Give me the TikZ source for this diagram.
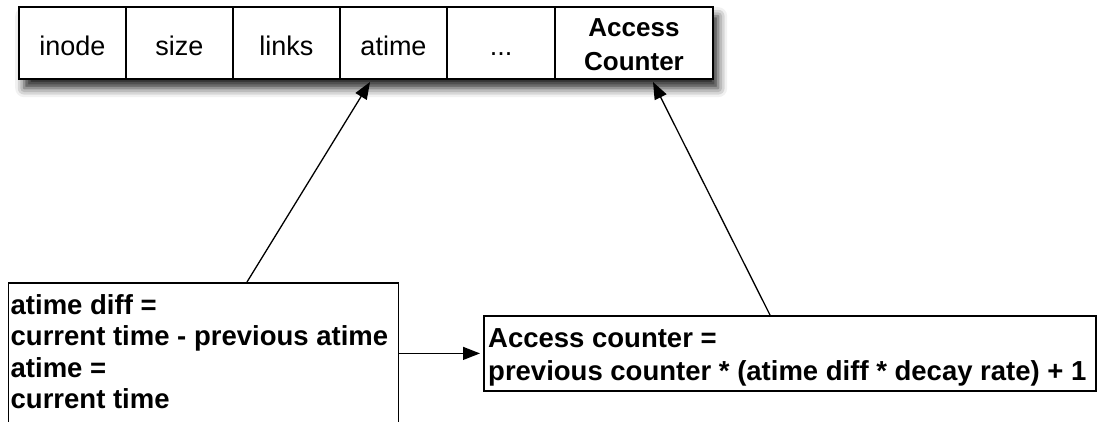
\documentclass[tikz,border=0pt]{standalone}
\usepackage{fontspec}
\setmainfont{Liberation Sans}
\usetikzlibrary{arrows.meta,shadows.blur}
\begin{document}
\begin{tikzpicture}[x=1pt,y=-1pt,
  cell/.style={draw, line width=1.8pt, rectangle, inner sep=0pt, minimum height=72pt,
    text height=24pt, text depth=0pt, font=\fontsize{27}{32}\selectfont},
  boxframe/.style={draw, line width=1.8pt, rectangle, inner sep=0pt, anchor=north west},
  boxtext/.style={anchor=north west, inner sep=0pt, align=left},
  conn/.style={line width=1.3pt, -{Triangle[length=17pt,width=13pt]}}]
\useasboundingbox (0,0) rectangle (1099,421);
% shadowed table background
\node[fill=white, minimum width=694pt, minimum height=72pt, anchor=north west, inner sep=0pt,
  blur shadow={shadow xshift=5pt, shadow yshift=-9pt, shadow blur radius=9pt, shadow opacity=85}]
  (table) at (19,7) {};
% cells
\node[cell, minimum width=107pt] (c1) at (72.5,43) {inode};
\node[cell, minimum width=107pt] (c2) at (179.5,43) {size};
\node[cell, minimum width=107pt] (c3) at (286.5,43) {links};
\node[cell, minimum width=107pt] (c4) at (393.5,43) {atime};
\node[cell, minimum width=108pt] (c5) at (501,43) {...};
\node[cell, minimum width=158pt] (c6) at (634,43) {};
\node[font=\fontsize{26}{34}\selectfont\bfseries, align=center, anchor=north, inner sep=0pt]
  (actext) at (634,12.2) {\strut Access\\\strut Counter};
% left box
\node[boxframe, minimum width=390pt, minimum height=160pt] (lbox) at (7.5,282) {};
\node[boxtext, font=\fontsize{27.5}{31.5}\selectfont\bfseries] (ltext) at (10.5,292)
  {\strut atime diff =\\\strut current time - previous atime\\\strut atime =\\\strut current time};
% right box
\node[boxframe, minimum width=612pt, minimum height=75pt] (rbox) at (483,315) {};
\node[boxtext, font=\fontsize{27.5}{33}\selectfont\bfseries] (rtext) at (488,324)
  {\strut Access counter =\\\strut previous counter * (atime diff * decay rate) + 1};
% connectors
\coordinate (lt) at (247,282);
\coordinate (at) at (370,82);
\coordinate (rt) at (770,315);
\coordinate (act) at (653,82);
\draw[conn] (lt) -- (at);
\draw[conn] (rt) -- (act);
\draw[conn] (lbox.east |- rbox.west) -- ([xshift=-3pt]rbox.west);
\end{tikzpicture}
\end{document}
